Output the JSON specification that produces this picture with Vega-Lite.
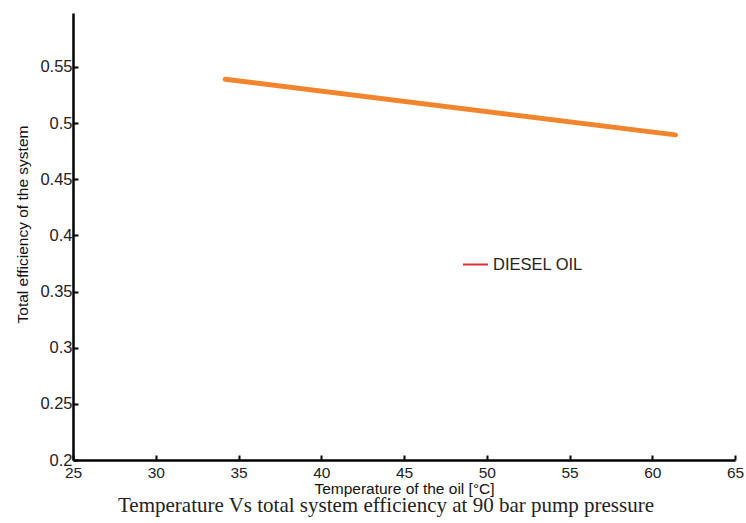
{
  "$schema": "https://vega.github.io/schema/vega-lite/v6.json",
  "width": 662,
  "height": 447,
  "autosize": {"type": "none"},
  "padding": {"left": 73, "top": 13, "right": 11, "bottom": 63},
  "background": "white",
  "title": {
    "text": "Temperature Vs total system efficiency at 90 bar pump pressure",
    "orient": "bottom",
    "anchor": "middle",
    "font": "Liberation Serif",
    "fontSize": 21,
    "fontWeight": "normal",
    "color": "#222222",
    "offset": -2,
    "dx": -18
  },
  "data": {
    "values": [
      {"temperature": 34.2, "efficiency": 0.539, "series": "DIESEL OIL"},
      {"temperature": 61.4, "efficiency": 0.4895, "series": "DIESEL OIL"}
    ]
  },
  "encoding": {
    "x": {
      "field": "temperature",
      "type": "quantitative",
      "scale": {"domain": [25, 65], "nice": false, "zero": false},
      "axis": {
        "title": "Temperature of the oil [°C]",
        "values": [25, 30, 35, 40, 45, 50, 55, 60, 65],
        "grid": false,
        "tickSize": -5,
        "tickWidth": 2,
        "tickColor": "black",
        "domainColor": "black",
        "domainWidth": 2.5,
        "labelFont": "Liberation Sans",
        "labelFontSize": 15.5,
        "labelColor": "#222222",
        "labelPadding": 10,
        "titleFont": "Liberation Sans",
        "titleFontSize": 15.5,
        "titleFontWeight": "normal",
        "titleColor": "#111111",
        "titleY": 28,
        "titleBaseline": "middle",
        "labelFlush": false
      }
    },
    "y": {
      "field": "efficiency",
      "type": "quantitative",
      "scale": {"domain": [0.2, 0.598], "nice": false, "zero": false},
      "axis": {
        "title": "Total efficiency of the system",
        "values": [0.2, 0.25, 0.3, 0.35, 0.4, 0.45, 0.5, 0.55],
        "format": "~g",
        "grid": false,
        "tickSize": -5,
        "tickWidth": 2,
        "tickColor": "black",
        "domainColor": "black",
        "domainWidth": 2.5,
        "labelFont": "Liberation Sans",
        "labelFontSize": 16.5,
        "labelColor": "#222222",
        "labelPadding": 6,
        "labelFlush": false,
        "titleFont": "Liberation Sans",
        "titleFontSize": 15.5,
        "titleFontWeight": "normal",
        "titleColor": "#111111",
        "titleX": -51,
        "titleY": 211,
        "titleAngle": 270,
        "titleAlign": "center",
        "titleBaseline": "middle"
      }
    }
  },
  "layer": [
    {
      "mark": {"type": "line", "strokeWidth": 2},
      "encoding": {
        "color": {
          "field": "series",
          "type": "nominal",
          "scale": {"range": ["#D9302F"]},
          "legend": {
            "title": null,
            "orient": "none",
            "legendX": 389,
            "legendY": 238,
            "symbolType": "stroke",
            "symbolStrokeWidth": 2,
            "symbolSize": 625,
            "labelFont": "Liberation Sans",
            "labelFontSize": 16.5,
            "labelColor": "#222222",
            "labelOffset": 4
          }
        }
      }
    },
    {
      "mark": {"type": "line", "strokeWidth": 5, "strokeCap": "round", "color": "#F0852D"},
      "encoding": {}
    }
  ],
  "config": {"view": {"stroke": null}}
}
